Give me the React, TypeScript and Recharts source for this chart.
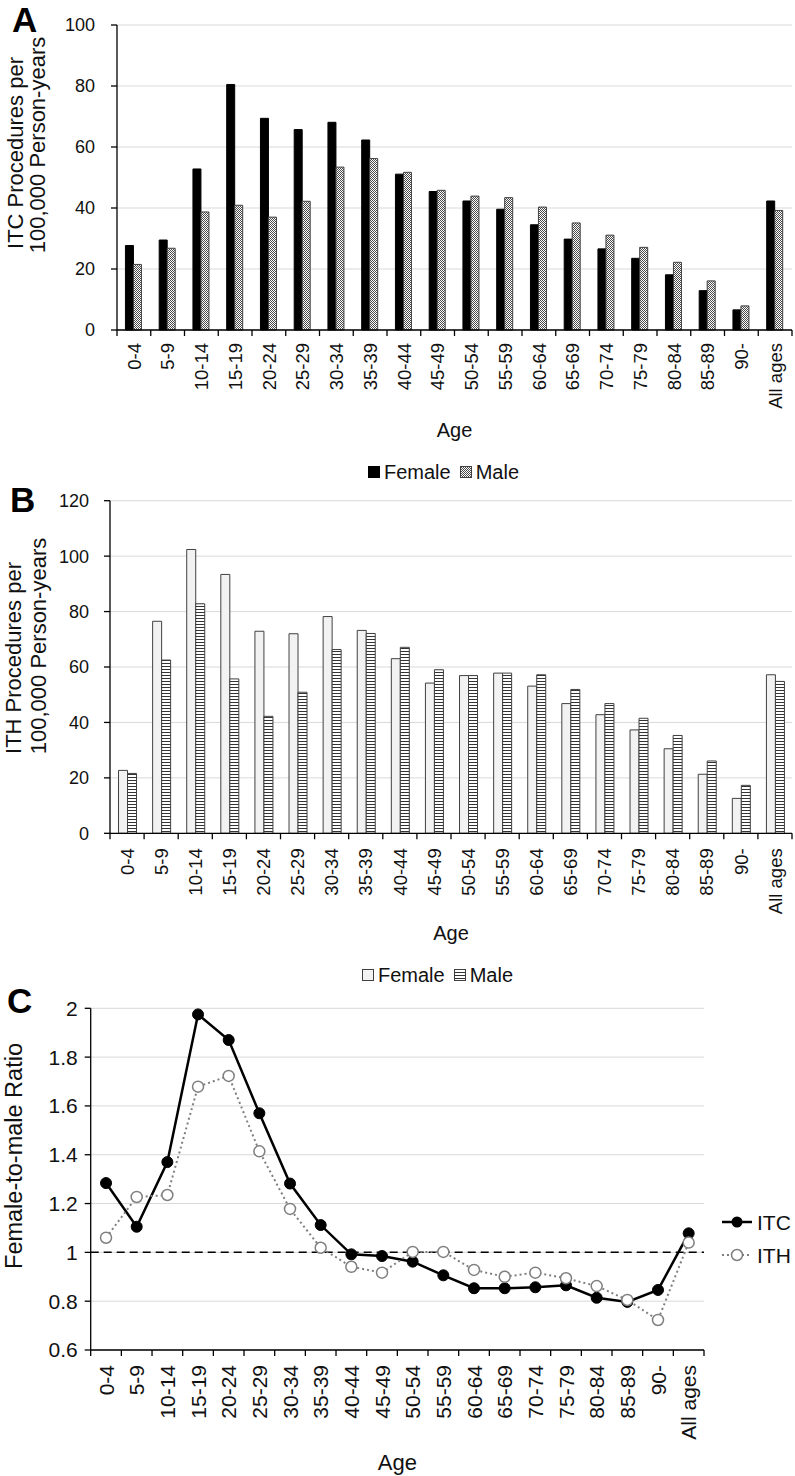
import React from 'react';
import {
  BarChart,
  Bar,
  LineChart,
  Line,
  XAxis,
  YAxis,
  CartesianGrid,
  Legend,
  ReferenceLine,
} from 'recharts';

// ---------- data ----------
const ageGroups = [
  '0-4', '5-9', '10-14', '15-19', '20-24', '25-29', '30-34', '35-39', '40-44', '45-49',
  '50-54', '55-59', '60-64', '65-69', '70-74', '75-79', '80-84', '85-89', '90-', 'All ages',
];
const itcFemale = [27.7, 29.5, 52.8, 80.5, 69.4, 65.7, 68.1, 62.3, 51.1, 45.4, 42.3, 39.6, 34.5, 29.8, 26.6, 23.5, 18.1, 12.9, 6.6, 42.3];
const itcMale = [21.5, 26.8, 38.7, 40.9, 37.0, 42.2, 53.4, 56.2, 51.7, 45.8, 43.9, 43.4, 40.3, 35.1, 31.1, 27.1, 22.2, 16.1, 7.9, 39.2];
const ithFemale = [22.7, 76.5, 102.4, 93.4, 72.9, 72.0, 78.2, 73.2, 63.0, 54.2, 56.9, 57.8, 53.1, 46.8, 42.8, 37.3, 30.5, 21.3, 12.6, 57.2];
const ithMale = [21.6, 62.5, 82.8, 55.7, 42.2, 50.9, 66.3, 72.1, 67.1, 59.0, 56.9, 57.8, 57.2, 51.9, 46.8, 41.5, 35.3, 26.1, 17.3, 54.8];
const itcRatio = [1.284, 1.105, 1.37, 1.975, 1.87, 1.57, 1.282, 1.112, 0.992, 0.985, 0.962, 0.906, 0.853, 0.853, 0.857, 0.865, 0.814, 0.797, 0.846, 1.078];
const ithRatio = [1.06, 1.227, 1.235, 1.679, 1.723, 1.414, 1.178, 1.019, 0.941, 0.917, 1.002, 1.002, 0.928, 0.9, 0.917, 0.894, 0.862, 0.805, 0.723, 1.04];

const ticksA = [0, 20, 40, 60, 80, 100];
const ticksB = [0, 20, 40, 60, 80, 100, 120];
const ticksC = [0.6, 0.8, 1, 1.2, 1.4, 1.6, 1.8, 2];

const dataA = ageGroups.map((age, i) => ({ age, female: itcFemale[i], male: itcMale[i] }));
const dataB = ageGroups.map((age, i) => ({ age, female: ithFemale[i], male: ithMale[i] }));
const dataC = ageGroups.map((age, i) => ({ age, itc: itcRatio[i], ith: ithRatio[i] }));

// ---------- styling ----------
const FONT = "'Liberation Sans', Arial, Helvetica, sans-serif";
const TXT = '#111';
const AXIS = '#000';
const GRID = '#d9d9d9';
const W = 795;
const YW = 60;

const mA = { top: 25, right: 3, bottom: 60, left: 57 };
const hA = 500;
const mB = { top: 20.7, right: 3, bottom: 56.7, left: 50 };
const hB = 520;
const mC = { top: 28.3, right: 91, bottom: 26, left: 30.7 };
const hC = 496;

const bwA = (W - mA.left - mA.right - YW) / ageGroups.length;
const bwB = (W - mB.left - mB.right - YW) / ageGroups.length;
const bwC = (W - mC.left - mC.right - YW) / ageGroups.length;

function AgeTick(props: any) {
  const { x, y, payload, index, bw, fontSize, gap, count } = props;
  const left = x - bw / 2;
  const right = x + bw / 2;
  return (
    <g>
      <line x1={left} x2={left} y1={y} y2={y + 6} stroke={AXIS} strokeWidth={1.3} />
      {index === count - 1 && (
        <line x1={right} x2={right} y1={y} y2={y + 6} stroke={AXIS} strokeWidth={1.3} />
      )}
      <text
        transform={`translate(${x},${y + gap}) rotate(-90)`}
        textAnchor="end"
        dy="0.36em"
        fontSize={fontSize}
        fill={TXT}
        fontFamily={FONT}
      >
        {payload.value}
      </text>
    </g>
  );
}

function SquareLegend({ items, fontSize }: any) {
  return (
    <div style={{ display: 'flex', alignItems: 'center', fontFamily: FONT, fontSize, color: TXT, lineHeight: '24px', whiteSpace: 'nowrap' }}>
      {items.map((it: any) => (
        <div key={it.label} style={{ display: 'flex', alignItems: 'center', marginRight: 9 }}>
          <svg width={12} height={12} style={{ marginRight: 4 }}>
            <rect x={0.5} y={0.5} width={11} height={11} fill={it.fill} stroke={it.stroke} strokeWidth={1} />
          </svg>
          <span>{it.label}</span>
        </div>
      ))}
    </div>
  );
}

function LineLegend() {
  return (
    <svg width={80} height={60} style={{ fontFamily: FONT }}>
      <line x1={4} x2={34} y1={12} y2={12} stroke="#000" strokeWidth={2.5} />
      <circle cx={19} cy={12} r={5.5} fill="#000" />
      <text x={39} y={12} dy="0.36em" fontSize={21} fill={TXT}>ITC</text>
      <line x1={4} x2={34} y1={45} y2={45} stroke="#7f7f7f" strokeWidth={2} strokeDasharray="2 3" />
      <circle cx={19} cy={45} r={5.5} fill="#fff" stroke="#7f7f7f" strokeWidth={1.5} />
      <text x={39} y={45} dy="0.36em" fontSize={21} fill={TXT}>ITH</text>
    </svg>
  );
}

function TwoLineTitle({ l1, l2, x1, c1, x2, c2, fontSize }: any) {
  return (
    <g fontFamily={FONT} fontSize={fontSize} fill={TXT}>
      <text transform={`translate(${x1},${c1}) rotate(-90)`} textAnchor="middle">{l1}</text>
      <text transform={`translate(${x2},${c2}) rotate(-90)`} textAnchor="middle">{l2}</text>
    </g>
  );
}

export default function App() {
  return (
    <div style={{ position: 'absolute', left: 0, top: 0, width: W, height: 1476, background: '#fff', fontFamily: FONT }}>
      <svg width={0} height={0} style={{ position: 'absolute' }}>
        <defs>
          <pattern id="stippleA" width={2} height={2} patternUnits="userSpaceOnUse">
            <rect width={2} height={2} fill="#ffffff" />
            <rect x={0} y={0} width={1} height={1} fill="#4a4a4a" />
            <rect x={1} y={1} width={1} height={1} fill="#4a4a4a" />
          </pattern>
          <pattern id="stripesB" width={4} height={3} patternUnits="userSpaceOnUse">
            <rect width={4} height={3} fill="#ffffff" />
            <rect x={0} y={0} width={4} height={1} fill="#333" />
          </pattern>
        </defs>
      </svg>

      {/* Panel A */}
      <div style={{ position: 'absolute', left: 0, top: 0 }}>
        <BarChart width={W} height={hA} data={dataA} margin={mA} barCategoryGap="25%" barGap={0}>
          <CartesianGrid vertical={false} stroke={GRID} strokeWidth={1} />
          <XAxis
            dataKey="age"
            interval={0}
            height={110}
            axisLine={{ stroke: AXIS, strokeWidth: 1.3 }}
            tickLine={false}
            tickSize={0}
            tickMargin={0}
            tick={(p: any) => <AgeTick {...p} bw={bwA} fontSize={18.5} gap={13} count={ageGroups.length} />}
            label={(p: any) => (
              <text x={p.viewBox.x + p.viewBox.width / 2} y={p.viewBox.y + 107} textAnchor="middle" fontSize={20} fill={TXT} fontFamily={FONT}>Age</text>
            )}
          />
          <YAxis
            width={YW}
            domain={[0, 100]}
            ticks={ticksA}
            interval={0}
            axisLine={{ stroke: AXIS, strokeWidth: 1.3 }}
            tickLine={{ stroke: AXIS, strokeWidth: 1.3 }}
            tickSize={6}
            tickMargin={16}
            tick={{ fontSize: 18, fill: TXT }}
            label={() => (
              <TwoLineTitle l1="ITC Procedures per" l2="100,000 Person-years" x1={23} c1={153} x2={45} c2={145} fontSize={22} />
            )}
          />
          <Legend
            layout="horizontal"
            verticalAlign="middle"
            align="center"
            wrapperStyle={{ left: 368, top: 460, width: 240 }}
            content={() => (
              <SquareLegend fontSize={20} items={[
                { label: 'Female', fill: '#000', stroke: '#000' },
                { label: 'Male', fill: 'url(#stippleA)', stroke: '#404040' },
              ]} />
            )}
          />
          <Bar dataKey="female" name="Female" fill="#000" stroke="#000" strokeWidth={1} isAnimationActive={false} />
          <Bar dataKey="male" name="Male" fill="url(#stippleA)" stroke="#404040" strokeWidth={1} isAnimationActive={false} />
        </BarChart>
      </div>

      {/* Panel B */}
      <div style={{ position: 'absolute', left: 0, top: 480 }}>
        <BarChart width={W} height={hB} data={dataB} margin={mB} barCategoryGap="25%" barGap={0}>
          <CartesianGrid vertical={false} stroke={GRID} strokeWidth={1} />
          <XAxis
            dataKey="age"
            interval={0}
            height={110}
            axisLine={{ stroke: AXIS, strokeWidth: 1.3 }}
            tickLine={false}
            tickSize={0}
            tickMargin={0}
            tick={(p: any) => <AgeTick {...p} bw={bwB} fontSize={18.5} gap={15} count={ageGroups.length} />}
            label={(p: any) => (
              <text x={p.viewBox.x + p.viewBox.width / 2} y={p.viewBox.y + 107} textAnchor="middle" fontSize={20} fill={TXT} fontFamily={FONT}>Age</text>
            )}
          />
          <YAxis
            width={YW}
            domain={[0, 120]}
            ticks={ticksB}
            interval={0}
            axisLine={{ stroke: AXIS, strokeWidth: 1.3 }}
            tickLine={{ stroke: AXIS, strokeWidth: 1.3 }}
            tickSize={6}
            tickMargin={15}
            tick={{ fontSize: 18, fill: TXT }}
            label={() => (
              <TwoLineTitle l1="ITH Procedures per" l2="100,000 Person-years" x1={21} c1={178} x2={46} c2={166} fontSize={22} />
            )}
          />
          <Legend
            layout="horizontal"
            verticalAlign="middle"
            align="center"
            wrapperStyle={{ left: 362, top: 483, width: 240 }}
            content={() => (
              <SquareLegend fontSize={20} items={[
                { label: 'Female', fill: '#f2f2f2', stroke: '#404040' },
                { label: 'Male', fill: 'url(#stripesB)', stroke: '#404040' },
              ]} />
            )}
          />
          <Bar dataKey="female" name="Female" fill="#f2f2f2" stroke="#404040" strokeWidth={1} isAnimationActive={false} />
          <Bar dataKey="male" name="Male" fill="url(#stripesB)" stroke="#404040" strokeWidth={1} isAnimationActive={false} />
        </BarChart>
      </div>

      {/* Panel C */}
      <div style={{ position: 'absolute', left: 0, top: 980 }}>
        <LineChart width={W} height={hC} data={dataC} margin={mC}>
          <CartesianGrid vertical={false} stroke={GRID} strokeWidth={1} />
          <XAxis
            dataKey="age"
            scale="band"
            interval={0}
            height={100}
            axisLine={{ stroke: AXIS, strokeWidth: 1.3 }}
            tickLine={false}
            tickSize={0}
            tickMargin={0}
            tick={(p: any) => <AgeTick {...p} bw={bwC} fontSize={21} gap={15} count={ageGroups.length} />}
            label={(p: any) => (
              <text x={p.viewBox.x + p.viewBox.width / 2} y={p.viewBox.y + 120} textAnchor="middle" fontSize={22} fill={TXT} fontFamily={FONT}>Age</text>
            )}
          />
          <YAxis
            width={YW}
            domain={[0.6, 2]}
            ticks={ticksC}
            interval={0}
            axisLine={{ stroke: AXIS, strokeWidth: 1.3 }}
            tickLine={{ stroke: AXIS, strokeWidth: 1.3 }}
            tickSize={6}
            tickMargin={7}
            tickFormatter={(v: number) => String(Number(v.toFixed(1)))}
            tick={{ fontSize: 21, fill: TXT }}
            label={() => (
              <text transform="translate(22,176) rotate(-90)" textAnchor="middle" fontSize={23.5} fill={TXT} fontFamily={FONT}>Female-to-male Ratio</text>
            )}
          />
          <ReferenceLine y={1} stroke="#000" strokeWidth={1.5} strokeDasharray="8 5" />
          <Legend
            layout="horizontal"
            verticalAlign="middle"
            align="center"
            wrapperStyle={{ left: 718, top: 230, width: 80 }}
            content={() => <LineLegend />}
          />
          <Line
            type="linear"
            dataKey="itc"
            name="ITC"
            stroke="#000"
            strokeWidth={2.5}
            dot={{ r: 5.5, fill: '#000', stroke: '#000', strokeWidth: 1 }}
            isAnimationActive={false}
          />
          <Line
            type="linear"
            dataKey="ith"
            name="ITH"
            stroke="#7f7f7f"
            strokeWidth={2}
            strokeDasharray="2 3"
            dot={{ r: 5.5, fill: '#fff', stroke: '#7f7f7f', strokeWidth: 1.5, strokeDasharray: '0' }}
            isAnimationActive={false}
          />
        </LineChart>
      </div>

      {/* Panel letters */}
      <svg width={W} height={1476} style={{ position: 'absolute', left: 0, top: 0, pointerEvents: 'none' }}>
        <g fontFamily={FONT} fontWeight="bold" fontSize={35} fill="#000">
          <text x={12} y={32}>A</text>
          <text x={10} y={512}>B</text>
          <text x={7} y={1013}>C</text>
        </g>
      </svg>
    </div>
  );
}
